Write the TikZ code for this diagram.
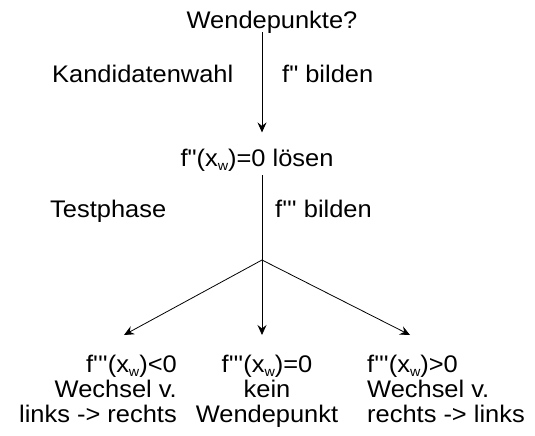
\documentclass[tikz,border=0pt]{standalone}
\usepackage{fontspec}
\setmainfont{Liberation Sans}[Ligatures=TeXOff, FakeStretch=1.06]
\usetikzlibrary{arrows.meta}
\tikzset{
  lbl/.style={inner sep=0pt, font=\fontsize{24}{25}\selectfont},
  flow/.style={line width=0.8pt, -{Stealth[length=10pt,width=9pt,inset=3.5pt]}},
  plain/.style={line width=0.8pt}
}
\newcommand{\xw}{(x\raisebox{-4.5pt}{\fontsize{13.5}{14}\selectfont w})}
\begin{document}
\begin{tikzpicture}[x=1pt,y=-1pt]
  \useasboundingbox (0,0) rectangle (535,436);
  % question and the first step
  \node[lbl, anchor=base] (q) at (272,29) {Wendepunkte?};
  \node[lbl, anchor=base west] (kand) at (52,82) {Kandidatenwahl};
  \node[lbl, anchor=base west] (f2) at (282,82) {f" bilden};
  \node[lbl, anchor=base] (solve) at (257,166) {f"\xw=0 lösen};
  % test phase
  \node[lbl, anchor=base west] (test) at (50,217) {Testphase};
  \node[lbl, anchor=base west] (f3) at (275,217) {f''' bilden};
  \coordinate (j) at (262,260);
  % three outcomes, one node each (base = last line)
  \node[lbl, anchor=base east, align=right] (neg) at (177,422)
    {f'''\xw<0\\Wechsel v.\\links -> rechts};
  \node[lbl, anchor=base, align=center] (zero) at (267,422)
    {f'''\xw=0\\kein\\Wendepunkt};
  \node[lbl, anchor=base west, align=left] (pos) at (367,422)
    {f'''\xw>0\\Wechsel v.\\rechts -> links};
  \coordinate (tl) at (124,335);
  \coordinate (tm) at (262,335);
  \coordinate (tr) at (410,335);
  % connectors
  \draw[flow, shorten <=-2pt, shorten >=16pt] (q.south -| j) -- (solve.north -| j);
  \draw[plain, shorten <=4pt] (solve.south -| j) -- (j);
  \draw[flow] (j) -- (tl);
  \draw[flow] (j) -- (tm);
  \draw[flow] (j) -- (tr);
\end{tikzpicture}
\end{document}
